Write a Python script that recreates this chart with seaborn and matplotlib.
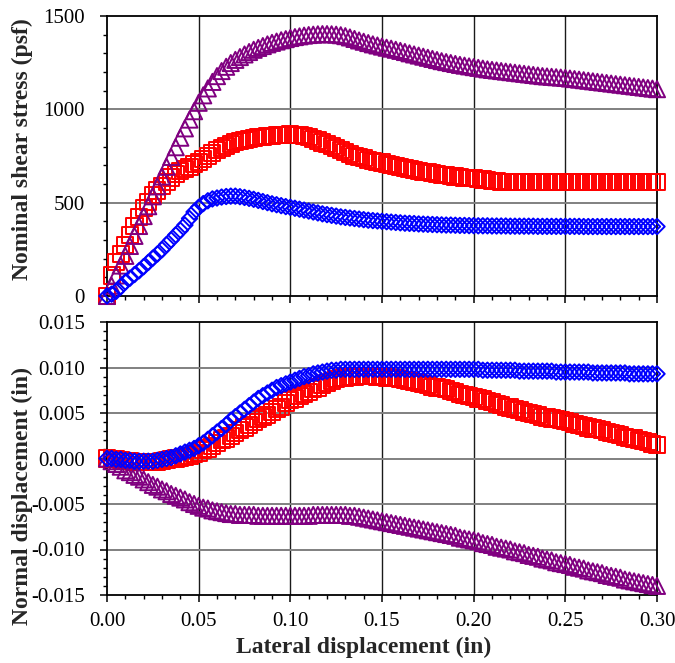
import numpy as np
import pandas as pd
import matplotlib
matplotlib.use("Agg")
import matplotlib.pyplot as plt
from matplotlib.ticker import MultipleLocator, FormatStrFormatter
import seaborn as sns

# ---------------- data ----------------
lateral_in = [
    0.0000, 0.0025, 0.0050, 0.0075, 0.0100, 0.0125, 0.0150, 0.0175, 0.0200, 0.0225,
    0.0250, 0.0275, 0.0300, 0.0325, 0.0350, 0.0375, 0.0400, 0.0425, 0.0450, 0.0475,
    0.0500, 0.0525, 0.0550, 0.0575, 0.0600, 0.0625, 0.0650, 0.0675, 0.0700, 0.0725,
    0.0750, 0.0775, 0.0800, 0.0825, 0.0850, 0.0875, 0.0900, 0.0925, 0.0950, 0.0975,
    0.1000, 0.1025, 0.1050, 0.1075, 0.1100, 0.1125, 0.1150, 0.1175, 0.1200, 0.1225,
    0.1250, 0.1275, 0.1300, 0.1325, 0.1350, 0.1375, 0.1400, 0.1425, 0.1450, 0.1475,
    0.1500, 0.1525, 0.1550, 0.1575, 0.1600, 0.1625, 0.1650, 0.1675, 0.1700, 0.1725,
    0.1750, 0.1775, 0.1800, 0.1825, 0.1850, 0.1875, 0.1900, 0.1925, 0.1950, 0.1975,
    0.2000, 0.2025, 0.2050, 0.2075, 0.2100, 0.2125, 0.2150, 0.2175, 0.2200, 0.2225,
    0.2250, 0.2275, 0.2300, 0.2325, 0.2350, 0.2375, 0.2400, 0.2425, 0.2450, 0.2475,
    0.2500, 0.2525, 0.2550, 0.2575, 0.2600, 0.2625, 0.2650, 0.2675, 0.2700, 0.2725,
    0.2750, 0.2775, 0.2800, 0.2825, 0.2850, 0.2875, 0.2900, 0.2925, 0.2950, 0.2975,
    0.3000,
]

shear_purple = [
    0, 55, 110, 163, 215, 268, 322, 375, 428, 481,
    534, 587, 640, 692, 745, 797, 848, 898, 945, 990,
    1035, 1075, 1112, 1147, 1178, 1205, 1228, 1248, 1265, 1280,
    1294, 1307, 1319, 1329, 1339, 1348, 1356, 1363, 1370, 1376,
    1382, 1387, 1391, 1395, 1398, 1400, 1402, 1403, 1403, 1402,
    1400, 1397, 1392, 1385, 1377, 1369, 1362, 1355, 1348, 1342,
    1336, 1330, 1325, 1319, 1313, 1307, 1300, 1294, 1288, 1282,
    1276, 1270, 1264, 1258, 1253, 1248, 1243, 1238, 1234, 1230,
    1226, 1222, 1218, 1214, 1211, 1208, 1205, 1202, 1199, 1196,
    1193, 1190, 1187, 1184, 1181, 1178, 1176, 1174, 1172, 1170,
    1168, 1165, 1162, 1159, 1156, 1153, 1150, 1147, 1144, 1141,
    1138, 1135, 1132, 1129, 1126, 1123, 1120, 1117, 1114, 1111,
    1108,
]

shear_red = [
    0, 110, 180, 225, 275, 325, 375, 425, 470, 505,
    540, 565, 590, 612, 635, 655, 668, 680, 692, 705,
    720, 735, 750, 765, 780, 793, 805, 815, 823, 830,
    836, 841, 846, 850, 853, 856, 859, 861, 863, 864,
    865, 864, 862, 858, 852, 843, 833, 822, 812, 802,
    792, 782, 772, 762, 752, 744, 737, 730, 724, 719,
    715, 708, 702, 696, 690, 685, 679, 674, 670, 666,
    662, 658, 654, 650, 647, 643, 640, 637, 634, 632,
    630, 627, 624, 620, 617, 614, 613, 612, 613, 612,
    612, 613, 612, 612, 613, 612, 612, 613, 612, 612,
    613, 612, 612, 613, 612, 612, 613, 612, 612, 613,
    612, 612, 613, 612, 612, 613, 612, 612, 613, 612,
    612,
]

shear_blue = [
    0, 10, 25, 50, 75, 95, 115, 135, 157, 180,
    203, 225, 248, 275, 300, 327, 352, 380, 415, 450,
    475, 495, 510, 520, 525, 530, 533, 535, 535, 532,
    528, 523, 518, 512, 506, 500, 494, 489, 484, 479,
    475, 470, 465, 460, 455, 450, 445, 440, 436, 432,
    428, 424, 421, 418, 415, 412, 409, 406, 404, 402,
    400, 398, 396, 394, 392, 390, 389, 388, 386, 385,
    384, 383, 382, 381, 380, 380, 379, 378, 378, 377,
    377, 376, 376, 376, 375, 375, 375, 375, 374, 374,
    374, 374, 374, 374, 373, 373, 373, 373, 373, 373,
    373, 373, 373, 373, 372, 372, 372, 372, 372, 372,
    372, 372, 372, 372, 372, 372, 372, 372, 372, 372,
    372,
]

normal_purple = [
    0.0000, -0.0003, -0.0006, -0.0009, -0.0013, -0.0015, -0.0018, -0.0020, -0.0023, -0.0026,
    -0.0029, -0.0031, -0.0034, -0.0036, -0.0039, -0.0041, -0.0043, -0.0045, -0.0048, -0.0050,
    -0.0052, -0.0054, -0.0055, -0.0057, -0.0058, -0.0059, -0.0060, -0.0061, -0.0061, -0.0062,
    -0.0062, -0.0062, -0.0062, -0.0063, -0.0063, -0.0063, -0.0063, -0.0063, -0.0063, -0.0063,
    -0.0063, -0.0063, -0.0063, -0.0063, -0.0063, -0.0062, -0.0062, -0.0062, -0.0062, -0.0062,
    -0.0062, -0.0062, -0.0062, -0.0063, -0.0063, -0.0064, -0.0065, -0.0066, -0.0067, -0.0068,
    -0.0069, -0.0070, -0.0071, -0.0072, -0.0073, -0.0074, -0.0075, -0.0076, -0.0077, -0.0078,
    -0.0079, -0.0080, -0.0081, -0.0082, -0.0083, -0.0084, -0.0085, -0.0087, -0.0088, -0.0089,
    -0.0090, -0.0091, -0.0093, -0.0094, -0.0095, -0.0097, -0.0098, -0.0099, -0.0100, -0.0102,
    -0.0103, -0.0104, -0.0106, -0.0107, -0.0108, -0.0110, -0.0111, -0.0112, -0.0114, -0.0115,
    -0.0116, -0.0117, -0.0119, -0.0120, -0.0121, -0.0123, -0.0124, -0.0125, -0.0126, -0.0128,
    -0.0129, -0.0130, -0.0131, -0.0133, -0.0134, -0.0135, -0.0136, -0.0137, -0.0138, -0.0139,
    -0.0140,
]

normal_red = [
    0.0000, -0.0001, -0.0001, -0.0002, -0.0003, -0.0003, -0.0004, -0.0004, -0.0004, -0.0004,
    -0.0004, -0.0004, -0.0003, -0.0002, -0.0001, 0.0000, 0.0001, 0.0002, 0.0003, 0.0005,
    0.0006, 0.0009, 0.0011, 0.0014, 0.0017, 0.0020, 0.0022, 0.0025, 0.0028, 0.0031,
    0.0034, 0.0037, 0.0040, 0.0043, 0.0046, 0.0048, 0.0051, 0.0054, 0.0057, 0.0061,
    0.0064, 0.0066, 0.0069, 0.0071, 0.0073, 0.0076, 0.0078, 0.0081, 0.0083, 0.0085,
    0.0087, 0.0088, 0.0089, 0.0090, 0.0090, 0.0091, 0.0091, 0.0091, 0.0091, 0.0090,
    0.0090, 0.0089, 0.0088, 0.0088, 0.0087, 0.0086, 0.0085, 0.0084, 0.0083, 0.0082,
    0.0081, 0.0079, 0.0078, 0.0077, 0.0076, 0.0074, 0.0073, 0.0071, 0.0070, 0.0069,
    0.0068, 0.0066, 0.0065, 0.0063, 0.0062, 0.0060, 0.0059, 0.0057, 0.0056, 0.0054,
    0.0053, 0.0051, 0.0050, 0.0049, 0.0048, 0.0046, 0.0045, 0.0044, 0.0043, 0.0042,
    0.0041, 0.0040, 0.0038, 0.0037, 0.0036, 0.0034, 0.0033, 0.0032, 0.0031, 0.0029,
    0.0028, 0.0027, 0.0026, 0.0024, 0.0023, 0.0022, 0.0020, 0.0019, 0.0018, 0.0016,
    0.0015,
]

normal_blue = [
    0.0000, 0.0000, -0.0001, -0.0001, -0.0002, -0.0002, -0.0003, -0.0003, -0.0003, -0.0003,
    -0.0003, -0.0002, -0.0001, 0.0000, 0.0001, 0.0003, 0.0005, 0.0007, 0.0009, 0.0011,
    0.0014, 0.0017, 0.0021, 0.0025, 0.0029, 0.0033, 0.0037, 0.0042, 0.0046, 0.0050,
    0.0054, 0.0058, 0.0062, 0.0066, 0.0069, 0.0072, 0.0075, 0.0078, 0.0080, 0.0082,
    0.0084, 0.0086, 0.0088, 0.0090, 0.0091, 0.0093, 0.0094, 0.0095, 0.0096, 0.0097,
    0.0097, 0.0098, 0.0098, 0.0098, 0.0098, 0.0098, 0.0098, 0.0098, 0.0098, 0.0098,
    0.0098, 0.0098, 0.0098, 0.0098, 0.0098, 0.0098, 0.0098, 0.0098, 0.0098, 0.0098,
    0.0098, 0.0098, 0.0098, 0.0098, 0.0098, 0.0098, 0.0098, 0.0098, 0.0098, 0.0098,
    0.0098, 0.0098, 0.0097, 0.0097, 0.0097, 0.0097, 0.0097, 0.0097, 0.0097, 0.0097,
    0.0096, 0.0096, 0.0096, 0.0096, 0.0096, 0.0096, 0.0096, 0.0096, 0.0095, 0.0095,
    0.0095, 0.0095, 0.0095, 0.0095, 0.0095, 0.0095, 0.0094, 0.0094, 0.0094, 0.0094,
    0.0094, 0.0094, 0.0094, 0.0094, 0.0093, 0.0093, 0.0093, 0.0093, 0.0093, 0.0093,
    0.0093,
]

x_ticks = [0.00, 0.05, 0.10, 0.15, 0.20, 0.25, 0.30]
shear_ticks = [0, 500, 1000, 1500]
normal_ticks = [-0.015, -0.010, -0.005, 0.000, 0.005, 0.010, 0.015]

# ---------------- style ----------------
sns.set_style("ticks")
plt.rcParams["font.family"] = ["Liberation Serif", "DejaVu Serif"]
plt.rcParams["axes.unicode_minus"] = False

PURPLE, RED, BLUE = "#800080", "#FF0000", "#0000FF"

fig = plt.figure(figsize=(6.75, 6.63), dpi=100)
W, H = 675.0, 663.0
ax1 = fig.add_axes([107 / W, 1 - 296 / H, 550 / W, 280 / H])
ax2 = fig.add_axes([107 / W, 1 - 595 / H, 550 / W, 273 / H])

top = pd.DataFrame({"x": lateral_in, "purple": shear_purple,
                    "red": shear_red, "blue": shear_blue})
bot = pd.DataFrame({"x": lateral_in, "purple": normal_purple,
                    "red": normal_red, "blue": normal_blue})

series = [("red", RED, "s", 135), ("purple", PURPLE, "^", 135), ("blue", BLUE, "D", 62)]

for ax, df in ((ax1, top), (ax2, bot)):
    for name, col, mk, size in series:
        sns.scatterplot(data=df, x="x", y=name, ax=ax, marker=mk, s=size,
                        facecolor="none", edgecolor=col, linewidth=1.4,
                        clip_on=False, zorder=3, legend=False)

for ax in (ax1, ax2):
    ax.set_xlim(0, 0.30)
    ax.set_xticks(x_ticks)
    ax.xaxis.set_minor_locator(MultipleLocator(0.01))
    ax.grid(False)
    for xv in x_ticks[1:-1]:
        ax.axvline(xv, color="#1a1a1a", lw=1.0, zorder=1)
    for sp in ax.spines.values():
        sp.set_visible(True)
        sp.set_color("black")
        sp.set_linewidth(1.3)
    ax.tick_params(which="major", direction="out", length=5, width=1.1,
                   colors="black", labelsize=15, pad=7)
    ax.tick_params(which="minor", direction="out", length=3, width=1.0,
                   colors="black")
    ax.tick_params(axis="y", which="major", pad=11)
    ax.set_xlabel("")
    ax.set_ylabel("")

ax1.set_ylim(0, 1500)
ax1.set_yticks(shear_ticks)
ax1.yaxis.set_minor_locator(MultipleLocator(100))
for yv in shear_ticks[1:-1]:
    ax1.axhline(yv, color="#808080", lw=1.4, zorder=1)
ax1.tick_params(axis="x", labelbottom=False)

ax2.set_ylim(-0.015, 0.015)
ax2.set_yticks(normal_ticks)
ax2.yaxis.set_major_formatter(FormatStrFormatter("%.3f"))
ax2.xaxis.set_major_formatter(FormatStrFormatter("%.2f"))
ax2.yaxis.set_minor_locator(MultipleLocator(0.001))
for yv in normal_ticks[1:-1]:
    ax2.axhline(yv, color="#808080", lw=1.4, zorder=1)

fig.text(22 / W, 1 - 149 / H, "Nominal shear stress (psf)", rotation=90,
         ha="center", va="center", fontsize=17, fontweight="bold")
fig.text(22 / W, 1 - 496 / H, "Normal displacement (in)", rotation=90,
         ha="center", va="center", fontsize=17, fontweight="bold")
fig.text(364 / W, 1 - 647 / H, "Lateral displacement (in)",
         ha="center", va="center", fontsize=17, fontweight="bold")

fig.savefig("out.png", dpi=100)
